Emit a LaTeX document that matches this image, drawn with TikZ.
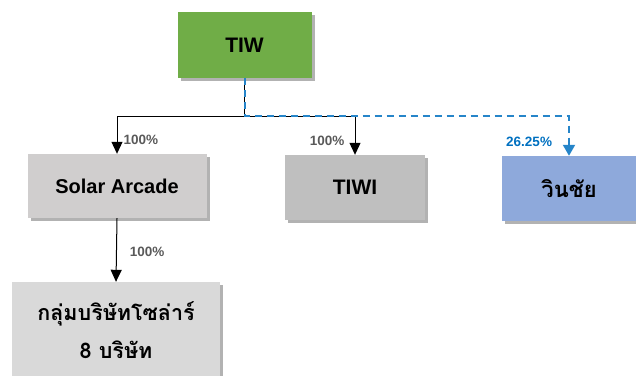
\documentclass[tikz,border=0pt]{standalone}
\usepackage{fontspec}
\setmainfont{Liberation Sans}
\newfontfamily\thaifont[Script=Thai]{Loma}
\usetikzlibrary{arrows.meta, shadows}
\definecolor{tiwgreen}{HTML}{70AD47}
\definecolor{solargray}{HTML}{D0CECE}
\definecolor{tiwigray}{HTML}{BFBFBF}
\definecolor{winblue}{HTML}{8EA9DB}
\definecolor{groupgray}{HTML}{D9D9D9}
\definecolor{pctgray}{HTML}{595959}
\definecolor{stakeblue}{HTML}{0070C0}
\tikzstyle{company} = [rectangle, text centered, inner sep=0pt, minimum height=65pt, font=\bfseries\fontsize{20}{22}\selectfont, drop shadow={shadow xshift=3pt, shadow yshift=-3pt, fill=black, opacity=0.3}]
\tikzstyle{pct} = [font=\bfseries\fontsize{13.5}{15}\selectfont, text=pctgray, inner sep=0pt]
\tikzstyle{holding} = [line width=1pt, -{Triangle[width=11pt, length=12pt]}]
\tikzstyle{stake} = [line width=2pt, stakeblue!85, dash pattern=on 7pt off 5pt, -{Triangle[width=12pt, length=11pt]}]

\begin{document}
\begin{tikzpicture}[x=1pt, y=1pt]
  \useasboundingbox (0,0) rectangle (636,-375);

  \node (tiw) [company, fill=tiwgreen, minimum width=134pt, minimum height=66pt, font=\bfseries\fontsize{21}{24}\selectfont] at (244.5,-45) {TIW};
  \node (solar) [company, fill=solargray, minimum width=179pt, minimum height=64pt] at (117,-186) {Solar Arcade};
  \node (tiwi) [company, fill=tiwigray, minimum width=140pt, font=\bfseries\fontsize{21}{24}\selectfont] at (355,-187.5) {TIWI};
  \node (winchai) [company, fill=winblue, minimum width=134pt, font=\thaifont\bfseries\fontsize{22}{24}\selectfont] at (569,-188.5) {วินชัย};
  \node (group) [company, fill=groupgray, minimum width=208pt, minimum height=96pt, align=center, font=\thaifont\bfseries\fontsize{21.5}{38}\selectfont] at (116,-330) {กลุ่มบริษัทโซล่าร์\\8 บริษัท};

  \coordinate (split) at (244.5,-116);

  \draw [holding] (tiw.south) -- (split) -| node[pct, pos=0.82, anchor=west, xshift=6pt] {100\%} (solar.north);
  \draw [holding] (split) -| node[pct, pos=0.82, anchor=east, xshift=-10pt] {100\%} (tiwi.north);
  \draw [stake] (tiw.south) -- (split) -| node[pct, text=stakeblue, pos=0.82, anchor=east, xshift=-16pt] {26.25\%} (winchai.north);
  \draw [holding] (solar.south) -- node[pct, pos=0.53, anchor=west, xshift=13pt] {100\%} (group.north);

\end{tikzpicture}
\end{document}
